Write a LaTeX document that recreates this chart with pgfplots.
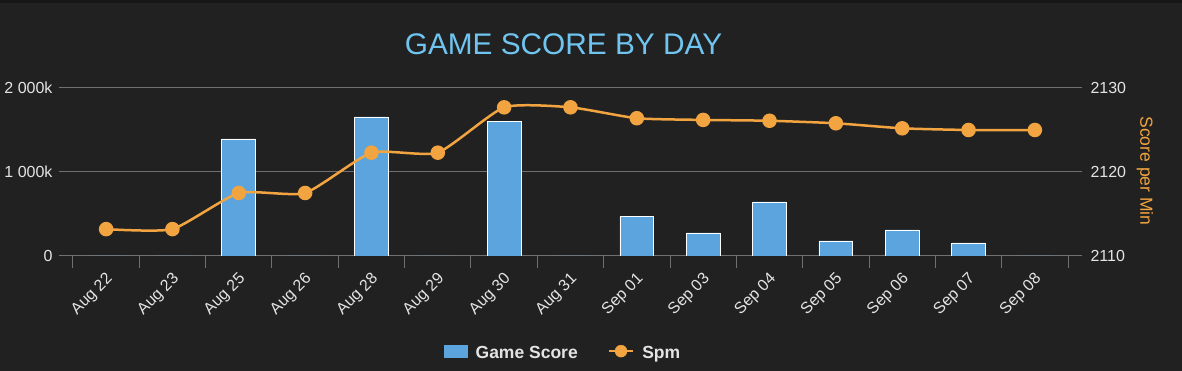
\documentclass[border=0pt]{standalone}
\usepackage{pgfplots}
\pgfplotsset{compat=1.18}
\usepackage{fontspec}
\setmainfont{Liberation Sans}
\definecolor{bg}{RGB}{33,33,33}
\definecolor{topstrip}{RGB}{22,22,22}
\definecolor{barblue}{RGB}{91,164,221}
\definecolor{lineorange}{RGB}{242,164,64}
\definecolor{titleblue}{RGB}{111,196,240}
\definecolor{gridgray}{RGB}{112,112,112}
\definecolor{txt}{RGB}{228,228,228}
\begin{document}
\begin{tikzpicture}[x=1pt,y=1pt]
\fill[bg] (0,0) rectangle (1182,371);
\fill[topstrip] (0,367.5) rectangle (1182,371);
\node[anchor=base, text=titleblue, font=\fontsize{29.8}{35}\selectfont, inner sep=0pt] at (563.5,316) {GAME SCORE BY DAY};
\node[rotate=-90, text=lineorange, font=\fontsize{17.5}{21}\selectfont, inner sep=0pt] at (1145,200) {Score per Min};
\begin{axis}[
  at={(59pt,115pt)}, anchor=south west, scale only axis,
  width=1023pt, height=168pt,
  xmin=-0.71, xmax=14.71, ymin=0, ymax=2000,
  axis x line*=bottom, axis y line*=left,
  y axis line style={draw=none},
  x axis line style={gridgray, line width=1pt, -},
  xtick={0,...,14},
  xticklabels={Aug 22,Aug 23,Aug 25,Aug 26,Aug 28,Aug 29,Aug 30,Aug 31,Sep 01,Sep 03,Sep 04,Sep 05,Sep 06,Sep 07,Sep 08},
  major x tick style={draw=none},
  minor xtick={-0.5,0.5,...,14.5},
  minor tick length=12pt,
  minor x tick style={gridgray, line width=1pt},
  xtick align=outside,
  xticklabel style={xshift=-1pt, yshift=-6.5pt, rotate=45, anchor=north east},
  ytick={0,1000,2000}, yticklabels={0,1 000k,2 000k},
  scaled y ticks=false,
  major y tick style={draw=none},
  ymajorgrids, grid style={gridgray, line width=1pt},
  ticklabel style={font=\fontsize{16}{19}\selectfont, text=txt},
  yticklabel style={xshift=-3pt},
  ybar, bar width=0.51,
  legend columns=2,
  legend style={at={(0.4927,-0.577)}, anchor=center, draw=none, fill=none,
    text=txt, font=\bfseries\fontsize{17.5}{21}\selectfont,
    /tikz/every odd column/.append style={column sep=6pt},
    /tikz/every even column/.append style={column sep=28pt}},
]
\addplot[fill=barblue, draw=white, line width=0.8pt,
  legend image code/.code={\fill[barblue] (0pt,-0.42em) rectangle (23pt,0.78em);}]
  coordinates {(0,0) (1,0) (2,1393) (3,0) (4,1655) (5,0) (6,1607) (7,0) (8,476) (9,274) (10,643) (11,179) (12,310) (13,155) (14,0)};
\addlegendentry{Game Score}
\addlegendimage{legend image code/.code={\draw[lineorange, line width=2.5pt] (0pt,0.18em)--(24pt,0.18em); \fill[lineorange] (12pt,0.18em) circle (6pt);}}
\addlegendentry{Spm}
\end{axis}
\begin{axis}[
  at={(59pt,115pt)}, anchor=south west, scale only axis,
  width=1023pt, height=168pt,
  xmin=-0.71, xmax=14.71, ymin=2110, ymax=2130,
  axis x line=none, axis y line*=right,
  y axis line style={draw=none},
  major y tick style={draw=none},
  ytick={2110,2120,2130}, yticklabels={2110,2120,2130},
  ticklabel style={font=\fontsize{16}{19}\selectfont, text=txt},
  yticklabel style={xshift=5pt},
  clip=false,
]
\addplot[lineorange, line width=2.5pt, smooth, tension=0.33, mark=*, mark size=6pt, mark options={fill=lineorange, draw=none}]
  coordinates {(0,2113.2) (1,2113.2) (2,2117.5) (3,2117.5) (4,2122.3) (5,2122.3) (6,2127.7) (7,2127.7) (8,2126.4) (9,2126.2) (10,2126.1) (11,2125.8) (12,2125.2) (13,2125.0) (14,2125.0)};
\end{axis}
\end{tikzpicture}
\end{document}
